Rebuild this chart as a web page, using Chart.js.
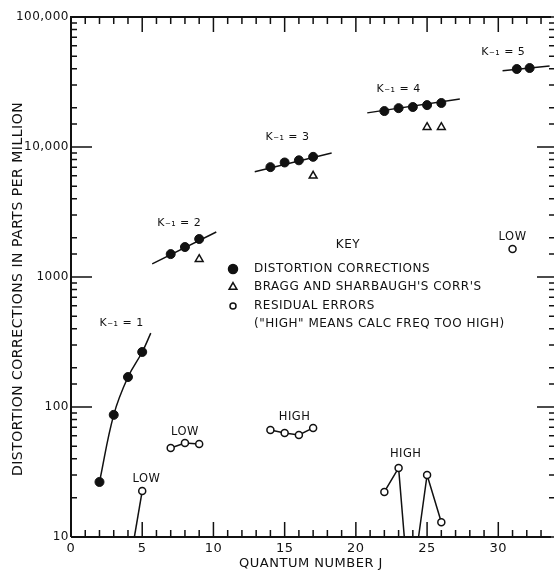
<!DOCTYPE html>
<html>
<head>
<meta charset="utf-8">
<script src="https://cdn.jsdelivr.net/npm/chart.js@4.4.1/dist/chart.umd.min.js"></script>
<style>
  html, body { margin: 0; padding: 0; background: #fff; }
  #wrap { width: 557px; height: 571px; }
</style>
</head>
<body>
<div id="wrap"><canvas id="grafico" width="557" height="571"></canvas></div>
<script>
// Correcciones de distorsion (ppm) por valor de K-1
const J_K1 = [2, 3, 4, 5];
const DIST_K1 = [26.5, 87, 170, 265];
const J_K2 = [7, 8, 9];
const DIST_K2 = [1500, 1700, 1960];
const J_K3 = [14, 15, 16, 17];
const DIST_K3 = [7000, 7600, 7900, 8400];
const J_K4 = [22, 23, 24, 25, 26];
const DIST_K4 = [18900, 19900, 20300, 21000, 21800];
const J_K5 = [31.3, 32.2];
const DIST_K5 = [39800, 40500];

// Curvas ajustadas (extremos de cada tramo)
const FIT_K1_J = [2, 3, 4, 5, 5.6];
const FIT_K1 = [26.5, 87, 170, 265, 370];
const FIT_K2_J = [5.7, 10.2];
const FIT_K2 = [1260, 2220];
const FIT_K3_J = [12.9, 18.3];
const FIT_K3 = [6450, 9000];
const FIT_K4_J = [20.8, 27.3];
const FIT_K4 = [18300, 23400];
const FIT_K5_J = [30.3, 33.6];
const FIT_K5 = [38600, 42000];

// Correcciones de Bragg y Sharbaugh
const J_BRAGG = [9, 17, 25, 26];
const BRAGG = [1370, 6000, 14200, 14200];

// Errores residuales (10 = la linea sale por el eje)
const RES_A_J = [4.45, 5];            const RES_A = [10, 22.6];
const RES_B_J = [7, 8, 9];            const RES_B = [48.4, 52.8, 51.9];
const RES_C_J = [14, 15, 16, 17];     const RES_C = [66.5, 63, 61, 69];
const RES_D_J = [22, 23, 23.4];       const RES_D = [22.2, 34, 10];
const RES_E_J = [24.4, 25, 26];       const RES_E = [10, 30, 13];
const RES_F_J = [31];                 const RES_F = [1640];

// Rotulos sobre el grafico (J, valor)
const NOTAS = [
    { texto: 'K₋₁ = 1', j: 3.55, v: 443 },
    { texto: 'K₋₁ = 2', j: 7.6, v: 2600 },
    { texto: 'K₋₁ = 3', j: 15.2, v: 11900 },
    { texto: 'K₋₁ = 4', j: 23.0, v: 27900 },
    { texto: 'K₋₁ = 5', j: 30.35, v: 53800 },
    { texto: 'LOW', j: 5.3, v: 28 },
    { texto: 'LOW', j: 8.0, v: 64 },
    { texto: 'HIGH', j: 15.7, v: 84 },
    { texto: 'HIGH', j: 23.5, v: 43.5 },
    { texto: 'LOW', j: 31, v: 2030 }
];

const CLAVE = [
    { estilo: 'circle', relleno: true, texto: 'DISTORTION CORRECTIONS' },
    { estilo: 'triangle', relleno: false, texto: "BRAGG AND SHARBAUGH'S CORR'S" },
    { estilo: 'circle', relleno: false, texto: 'RESIDUAL ERRORS' },
    { estilo: null, relleno: false, texto: '("HIGH" MEANS CALC FREQ TOO HIGH)' }
];

const TITULO_Y = 'DISTORTION CORRECTIONS IN PARTS PER MILLION';
const TINTA = '#111';
const FUENTE = '"DejaVu Sans", sans-serif';

function pares(js, vs) { return js.map((j, i) => ({ x: j, y: vs[i] })); }

function tramo(js, vs, curva) {
    return {
        data: pares(js, vs), borderColor: TINTA, borderWidth: 1.5, pointRadius: 0,
        showLine: true, tension: curva ? 0.4 : 0, fill: false
    };
}

function residuo(js, vs) {
    return {
        data: pares(js, vs), borderColor: TINTA, borderWidth: 1.5, backgroundColor: '#fff',
        pointBackgroundColor: '#fff', pointBorderColor: TINTA, pointBorderWidth: 1.5,
        pointRadius: c => (c.raw && c.raw.y <= 10 ? 0 : 3.5), showLine: true, fill: false
    };
}

const marco = {
    id: 'marco',
    beforeDraw(chart) { chart.ctx.letterSpacing = '0.5px'; },
    afterDraw(chart) {
        const { ctx, chartArea: a, scales: { x, y } } = chart;
        ctx.save();
        ctx.strokeStyle = TINTA;
        ctx.fillStyle = TINTA;
        ctx.lineWidth = 2;
        ctx.beginPath();
        ctx.moveTo(a.left, a.bottom); ctx.lineTo(a.left, a.top); ctx.lineTo(a.right, a.top);
        ctx.moveTo(a.left, a.bottom); ctx.lineTo(a.right, a.bottom);
        ctx.stroke();

        ctx.lineWidth = 1.5;
        ctx.beginPath();
        y.ticks.forEach(t => {
            const py = y.getPixelForValue(t.value);
            const l = Math.log10(t.value);
            const mayor = Math.abs(l - Math.round(l)) < 1e-6;
            ctx.moveTo(a.left, py); ctx.lineTo(a.left + (mayor ? 21 : 6), py);
            ctx.moveTo(a.right + 3, py); ctx.lineTo(a.right + 3 - (mayor ? 17 : 5), py);
        });
        for (let j = Math.ceil(x.min); j <= x.max; j++) {
            const px = x.getPixelForValue(j);
            const largo = j % 5 === 0 ? 15 : 7;
            ctx.moveTo(px, a.bottom); ctx.lineTo(px, a.bottom - largo);
            ctx.moveTo(px, a.top); ctx.lineTo(px, a.top + largo);
        }
        ctx.stroke();

        // titulo del eje Y
        ctx.save();
        ctx.translate(18, (a.top + a.bottom) / 2 + 12);
        ctx.rotate(-Math.PI / 2);
        ctx.font = '14px ' + FUENTE;
        ctx.textAlign = 'center';
        ctx.textBaseline = 'middle';
        ctx.fillText(TITULO_Y, 0, 0);
        ctx.restore();

        // rotulos K-1, LOW, HIGH
        ctx.textAlign = 'center';
        ctx.textBaseline = 'middle';
        NOTAS.forEach(n => {
            ctx.font = (n.texto.startsWith('K') ? '11px ' : '11.5px ') + FUENTE;
            ctx.fillText(n.texto, x.getPixelForValue(n.j), y.getPixelForValue(n.v));
        });

        // clave
        ctx.font = '12px ' + FUENTE;
        ctx.fillText('KEY', a.left + 277, a.top + 228);
        ctx.textAlign = 'left';
        const filas = [252, 270, 289, 307];
        CLAVE.forEach((c, i) => {
            const py = a.top + filas[i];
            if (c.estilo) {
                ctx.fillStyle = c.relleno ? TINTA : '#fff';
                ctx.lineWidth = 1.5;
                Chart.helpers.drawPoint(ctx, {
                    pointStyle: c.estilo, radius: c.estilo === 'triangle' ? 4.5 : (c.relleno ? 4.5 : 3), borderWidth: 1.5
                }, a.left + 162, py);
                ctx.fillStyle = TINTA;
            }
            ctx.fillText(c.texto, a.left + 183, py);
        });
        ctx.restore();
    }
};

const puntos = [].concat(
    pares(J_K1, DIST_K1), pares(J_K2, DIST_K2), pares(J_K3, DIST_K3),
    pares(J_K4, DIST_K4), pares(J_K5, DIST_K5)
);

new Chart(document.getElementById('grafico'), {
    type: 'line',
    data: {
        datasets: [
            { data: puntos, showLine: false, pointStyle: 'circle', pointRadius: 4.5,
              pointBackgroundColor: TINTA, pointBorderColor: TINTA, pointBorderWidth: 1 },
            { data: pares(J_BRAGG, BRAGG), showLine: false, pointStyle: 'triangle', pointRadius: 4.5,
              pointBackgroundColor: 'rgba(0,0,0,0)', pointBorderColor: TINTA, pointBorderWidth: 1.5 },
            residuo(RES_A_J, RES_A), residuo(RES_B_J, RES_B), residuo(RES_C_J, RES_C),
            residuo(RES_D_J, RES_D), residuo(RES_E_J, RES_E), residuo(RES_F_J, RES_F),
            tramo(FIT_K1_J, FIT_K1, true), tramo(FIT_K2_J, FIT_K2), tramo(FIT_K3_J, FIT_K3),
            tramo(FIT_K4_J, FIT_K4), tramo(FIT_K5_J, FIT_K5)
        ]
    },
    options: {
        responsive: false,
        devicePixelRatio: 1,
        animation: false,
        layout: { padding: { top: 17, left: 0, right: 0, bottom: 0 } },
        plugins: { legend: { display: false }, tooltip: { enabled: false } },
        scales: {
            x: {
                type: 'linear', min: 0, max: 33.7,
                grid: { display: false, drawTicks: false }, border: { display: false },
                ticks: { stepSize: 5, includeBounds: false, padding: 4, color: TINTA,
                         font: { family: FUENTE, size: 13 } },
                title: { display: true, text: 'QUANTUM NUMBER J', color: TINTA,
                         font: { family: FUENTE, size: 13 }, padding: { top: 0, bottom: 0 } },
                afterFit: s => { s.height = 34; }
            },
            y: {
                type: 'logarithmic', min: 10, max: 100000,
                grid: { display: false, drawTicks: false }, border: { display: false },
                ticks: {
                    autoSkip: false, padding: 2, color: TINTA, font: { family: FUENTE, size: 12 },
                    callback: v => {
                        const l = Math.log10(v);
                        if (Math.abs(l - Math.round(l)) > 1e-6) return '';
                        return v >= 10000 ? v.toLocaleString('en-US') : String(v);
                    }
                },
                afterFit: s => { s.width = 71; }
            }
        }
    },
    plugins: [marco]
});
</script>
</body>
</html>
